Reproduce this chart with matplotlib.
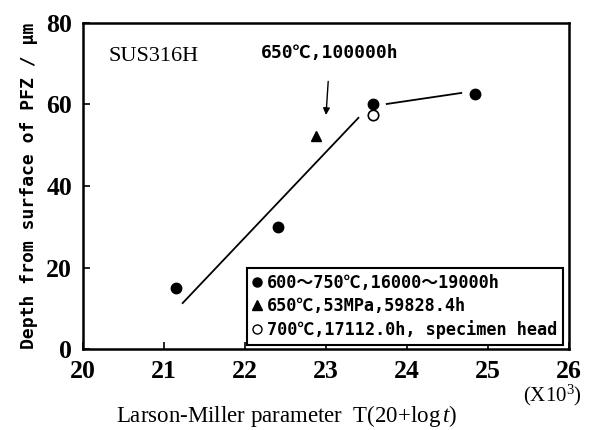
import matplotlib
matplotlib.use('Agg')
import matplotlib.pyplot as plt
from matplotlib.lines import Line2D

plt.rcParams['mathtext.fontset'] = 'custom'
plt.rcParams['mathtext.it'] = 'Liberation Serif:italic'
plt.rcParams['mathtext.rm'] = 'Liberation Serif'

# data
lmp_filled = [21.15, 22.41, 23.58, 24.84]
pfz_filled = [15.0, 30.0, 60.0, 62.6]
lmp_tri = [22.88]
pfz_tri = [52.3]
lmp_open = [23.58]
pfz_open = [57.4]

# hand-drawn trend lines
fit1_x = [21.23, 23.40]
fit1_y = [11.3, 56.7]
fit2_x = [23.75, 24.67]
fit2_y = [60.1, 62.8]

x_ticks = [20, 21, 22, 23, 24, 25, 26]
y_ticks = [0, 20, 40, 60, 80]

legend_labels = ['600～750℃,16000～19000h',
                 '650℃,53MPa,59828.4h',
                 '700℃,17112.0h, specimen head']

mono = ['DejaVu Sans Mono', 'Noto Sans CJK JP']

fig = plt.figure(figsize=(5.89, 4.30), dpi=100)
ax = fig.add_axes([0.141, 0.188, 0.825, 0.759])

ax.plot(fit1_x, fit1_y, color='black', lw=1.3)
ax.plot(fit2_x, fit2_y, color='black', lw=1.3)
ax.plot(lmp_filled, pfz_filled, 'o', color='black', ms=7.5)
ax.plot(lmp_tri, pfz_tri, '^', color='black', ms=7.5)
ax.plot(lmp_open, pfz_open, 'o', mfc='white', mec='black', mew=1.2, ms=7.5)

ax.set_xlim(20, 26)
ax.set_ylim(0, 80)
ax.set_xticks(x_ticks)
ax.set_yticks(y_ticks)
ax.tick_params(direction='in', length=5, width=1.2, pad=8)
for lab in ax.get_xticklabels() + ax.get_yticklabels():
    lab.set_fontfamily('Liberation Serif')
    lab.set_fontweight('bold')
    lab.set_fontsize(18.5)
for s in ax.spines.values():
    s.set_linewidth(1.8)

ax.set_ylabel('Depth from surface of PFZ / μm', family='DejaVu Sans Mono',
              fontweight='bold', fontsize=13, labelpad=6)
ax.set_xlabel(r'Larson-Miller parameter  T(20+log$\,\it{t}$)', family='Liberation Serif',
              fontsize=16.5, va='center')
ax.xaxis.set_label_coords(0.418, -0.205)
fig.text(552 / 589, 1 - 395 / 430, '(X10$^{\\rm 3}$)', family='Liberation Serif',
         fontsize=15, ha='center', va='center')

ax.text(20.31, 71.7, 'SUS316H', family='Liberation Serif', fontsize=16,
        ha='left', va='center')
ax.annotate('650℃,100000h', xy=(23.0, 57.4), xytext=(23.05, 72.6),
            ha='center', va='center', fontsize=13, fontweight='bold', family=mono,
            arrowprops=dict(arrowstyle='-|>', color='black', lw=1.0,
                            shrinkA=12, shrinkB=0, mutation_scale=10))

handles = [Line2D([], [], ls='none', marker='o', color='black', ms=6.5),
           Line2D([], [], ls='none', marker='^', color='black', ms=6.5),
           Line2D([], [], ls='none', marker='o', mfc='white', mec='black', ms=6.5)]
leg = ax.legend(handles, legend_labels, loc='lower right', bbox_to_anchor=(0.988, 0.012),
                borderaxespad=0, fancybox=False, edgecolor='black', framealpha=1,
                handlelength=0.5, handletextpad=0.35, borderpad=0.35, labelspacing=0.3,
                prop={'family': mono, 'weight': 'bold', 'size': 12.2})
leg.get_frame().set_linewidth(1.5)

fig.savefig('out.png', dpi=100)
